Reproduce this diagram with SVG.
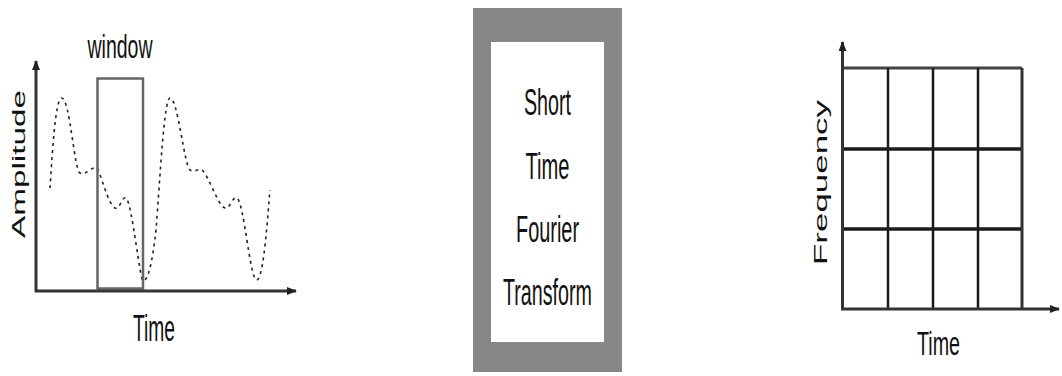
<svg xmlns="http://www.w3.org/2000/svg" width="1062" height="376" viewBox="0 0 1062 376">
  <defs>
    <marker id="arr" markerWidth="10" markerHeight="8" refX="9" refY="4" orient="auto" markerUnits="userSpaceOnUse">
      <path d="M0,0 L10,4 L0,8 Z" fill="#222"/>
    </marker>
    <style>
      .lbl { font-family: "Liberation Sans", Arial, sans-serif; fill: #111; }
      .axis { stroke: #333; stroke-width: 3; fill: none; }
      .grid { stroke: #1a1a1a; fill: none; }
      .wave { stroke: #222; stroke-width: 1.6; fill: none; stroke-dasharray: 3 4; }
    </style>
  </defs>
  <rect width="1062" height="376" fill="#fff"/>

  <g id="signal-plot">
    <path class="wave" d="M50,188 C52,160 55,98 61.7,98 C70,98 74,170 80,173 C86,176 92,166 96.7,168 C100,170 108,205 115,208 C120,210 122,196 126,198 C132,202 140,282 143.3,281 C148,280 152,265 156,230 C160,180 164,98 170,98 C178,98 184,165 190,170 C194,173 198,168 202,170 C208,174 218,206 225,208 C230,210 232,196 237,198 C244,202 250,280 256.7,280 C264,280 268,210 270,190"/>
    <rect x="97.5" y="78.5" width="45.5" height="210" fill="none" stroke="#666" stroke-width="2.5"/>
    <text class="lbl" x="120" y="58" font-size="34" text-anchor="middle" textLength="65" lengthAdjust="spacingAndGlyphs">window</text>
    <text class="lbl" x="154" y="341" font-size="36" text-anchor="middle" textLength="42" lengthAdjust="spacingAndGlyphs">Time</text>
    <text class="lbl" transform="translate(25,238) rotate(-90)" x="0" y="0" font-size="18" textLength="148" lengthAdjust="spacingAndGlyphs">Amplitude</text>
  </g>

  <g id="stft-box">
    <rect x="473" y="8" width="149" height="364" fill="#878787"/>
    <rect x="491" y="42" width="113" height="300" fill="#fff"/>
    <text class="lbl" x="547.5" y="115" font-size="36" text-anchor="middle" textLength="47" lengthAdjust="spacingAndGlyphs">Short</text>
    <text class="lbl" x="547.5" y="178.5" font-size="36" text-anchor="middle" textLength="44" lengthAdjust="spacingAndGlyphs">Time</text>
    <text class="lbl" x="547.5" y="242" font-size="36" text-anchor="middle" textLength="63" lengthAdjust="spacingAndGlyphs">Fourier</text>
    <text class="lbl" x="547.5" y="305" font-size="36" text-anchor="middle" textLength="89" lengthAdjust="spacingAndGlyphs">Transform</text>
  </g>

  <g id="tf-grid">
    <g class="grid">
      <line x1="842" y1="68" x2="1022" y2="68" stroke="#444" stroke-width="3"/>
      <line x1="842" y1="149" x2="1022" y2="149" stroke-width="3.5"/>
      <line x1="842" y1="229" x2="1022" y2="229" stroke-width="3.5"/>
      <line x1="888" y1="68" x2="888" y2="309" stroke-width="2.5"/>
      <line x1="933" y1="68" x2="933" y2="309" stroke-width="2.5"/>
      <line x1="978" y1="68" x2="978" y2="309" stroke-width="2.5"/>
      <line x1="1022" y1="68" x2="1022" y2="309" stroke="#333" stroke-width="3"/>
    </g>
    <text class="lbl" x="938.5" y="355" font-size="33" text-anchor="middle" textLength="43" lengthAdjust="spacingAndGlyphs">Time</text>
    <text class="lbl" transform="translate(826.5,265) rotate(-90)" x="0" y="0" font-size="19" textLength="165" lengthAdjust="spacingAndGlyphs">Frequency</text>
  </g>

  <g id="connectors">
    <line class="axis" x1="36" y1="292" x2="36" y2="61" marker-end="url(#arr)"/>
    <line class="axis" x1="35" y1="291" x2="296" y2="291" marker-end="url(#arr)"/>
    <line class="axis" x1="842.5" y1="310" x2="842.5" y2="42" marker-end="url(#arr)"/>
    <line class="axis" x1="841" y1="309" x2="1059" y2="309" marker-end="url(#arr)"/>
  </g>
</svg>
